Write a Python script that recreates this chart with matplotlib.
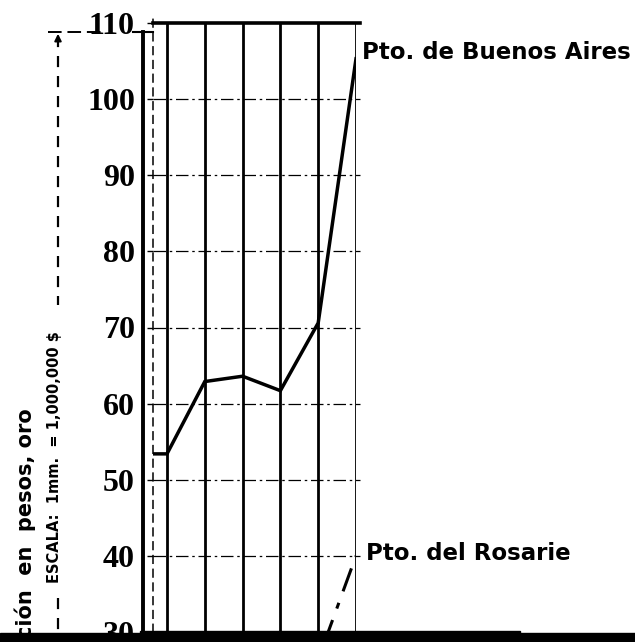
import numpy as np
import matplotlib.pyplot as plt
from matplotlib.patches import Rectangle
from matplotlib.lines import Line2D

# columns of the grid (periods are not labelled in the source)
cols = [0, 1, 2, 3, 4, 5]
buenos_aires = [53.4, 62.9, 63.6, 61.7, 70.6, 105.3]
rosario_cols = [4, 5]
rosario = [26.4, 40.0]
y_ticks = [30, 40, 50, 60, 70, 80, 90, 100, 110]

W, H = 635, 642
fig = plt.figure(figsize=(W / 100, H / 100), dpi=100)


def fx(x):
    return x / W


def fy(y):
    return 1 - y / H


ax = fig.add_axes([fx(153), fy(632), 203 / W, 609 / H])
x0 = -0.37
ax.set_xlim(x0, 5)
ax.set_ylim(30, 110)

# grid: solid verticals, dash-dot horizontals
for c in cols:
    ax.axvline(c, color='k', lw=2.0, zorder=2)
for v in y_ticks[1:-1]:
    ax.axhline(v, color='k', lw=0.9, ls=(0, (10, 3, 2, 3)), xmax=1.02,
               clip_on=False, zorder=1)
ax.axhline(110, color='k', lw=2.6, xmax=1.02, clip_on=False, zorder=3)

for s in ['top', 'right', 'bottom']:
    ax.spines[s].set_visible(False)
ax.spines['left'].set_linestyle((0, (5, 4)))
ax.spines['left'].set_linewidth(1.1)
ax.spines['left'].set_bounds(30, 111)

ax.set_xticks([])
ax.set_yticks(y_ticks)
ax.set_yticklabels([str(t) for t in y_ticks], family='Liberation Serif',
                   fontweight='bold', fontsize=23)
ax.tick_params(axis='y', length=4, width=1, pad=9)

# heavy left rule and the "110" underline
ax.plot([-0.635, -0.635], [108.8, 28.0], color='k', lw=2.8, clip_on=False)
ax.plot([-0.9, x0], [108.8, 108.8], color='k', lw=1.5, clip_on=False)

# series
ax.plot([x0] + cols, [buenos_aires[0]] + buenos_aires, color='k', lw=2.5,
        solid_joinstyle='miter', zorder=4)
ax.plot(rosario_cols, rosario, color='k', lw=2.2, ls=(0, (8, 4, 2, 4)), zorder=4)

lab = dict(fontsize=16.5, fontweight='bold', family='DejaVu Sans', va='center',
           ha='left', textcoords='offset pixels', annotation_clip=False)
ax.annotate('Pto. de Buenos Aires', (5, buenos_aires[-1]), xytext=(6, 6), **lab)
ax.annotate('Pto. del Rosarie', (5, rosario[-1]), xytext=(10, 2), **lab)

# scale indicator on the left
fig.add_artist(Line2D([fx(48), fx(102)], [fy(32), fy(32)], color='k', lw=1.4,
                      ls=(0, (7, 3))))
fig.add_artist(Line2D([fx(58), fx(58)], [fy(36), fy(305)], color='k', lw=1.6,
                      ls=(0, (5, 4))))
fig.add_artist(Line2D([fx(58), fx(58)], [fy(598), fy(642)], color='k', lw=1.6,
                      ls=(0, (5, 4))))
ax.annotate('', xy=(58, H - 31), xytext=(58, H - 44), xycoords='figure pixels',
            arrowprops=dict(arrowstyle='-|>', lw=1.4, color='k',
                            mutation_scale=10))

fig.text(fx(25), fy(408), 'ción  en  pesos, oro', rotation=90,
         rotation_mode='anchor', ha='right', va='center', fontsize=15,
         fontweight='bold')
fig.text(fx(55), fy(583), 'ESCALA:  1mm.  = 1,000,000 $', rotation=90,
         rotation_mode='anchor', ha='left', va='center', fontsize=10.5,
         fontweight='bold')

# heavy bottom rule
fig.add_artist(Rectangle((0, 0), 1, 9 / H, transform=fig.transFigure,
                         color='k', zorder=10))
fig.add_artist(Rectangle((fx(140), 0), fx(520) - fx(140), 11 / H,
                         transform=fig.transFigure, color='k', zorder=10))

fig.savefig('out.png', dpi=100)
